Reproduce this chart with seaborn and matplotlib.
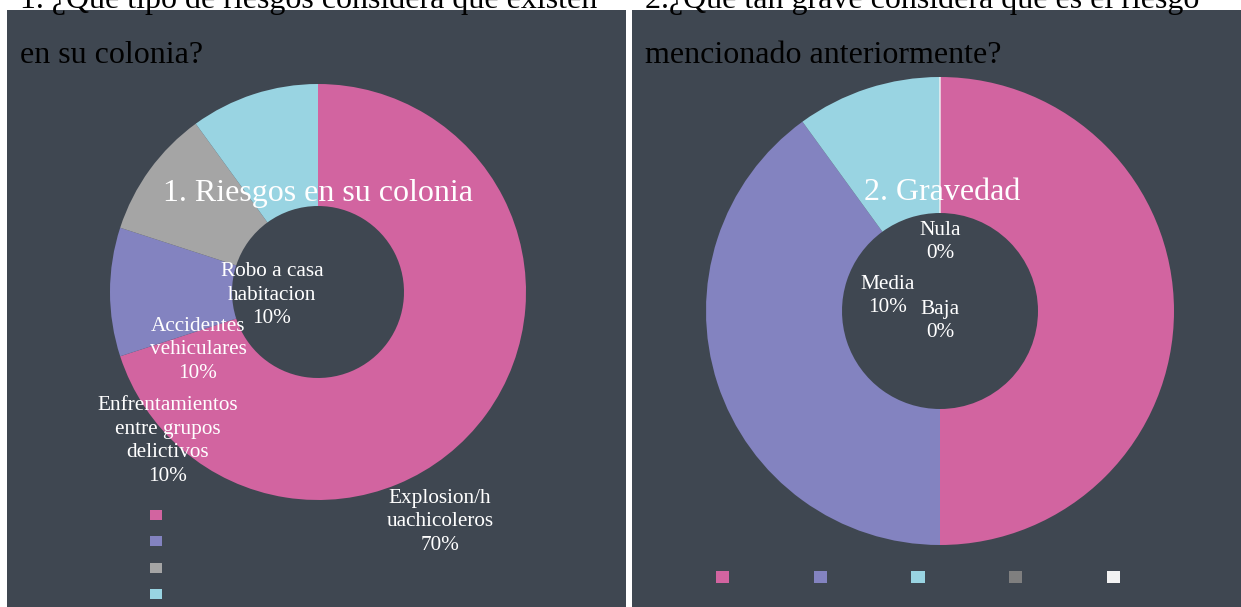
import matplotlib
matplotlib.use("Agg")
import matplotlib.pyplot as plt
import seaborn as sns
from matplotlib.patches import Patch

# --- data -------------------------------------------------------------
riesgos = ["Explosion/huachicoleros", "Enfrentamientos entre grupos delictivos",
           "Accidentes vehiculares", "Robo a casa habitacion"]
riesgos_pct = [70, 10, 10, 10]

gravedad = ["Alta", "Grave", "Media", "Baja", "Nula"]
gravedad_pct = [50, 40, 10, 0, 0]

colors_1 = ["#D264A0", "#8383C0", "#A5A5A5", "#99D4E2"]
colors_2 = ["#D264A0", "#8383C0", "#99D4E2", "#7F7F7F", "#F2F2F2"]

BG = "#3F4751"
W, H = 1241, 607

sns.set_theme(style="white")
plt.rcParams["font.family"] = ["Liberation Serif", "DejaVu Serif"]

fig = plt.figure(figsize=(W / 100, H / 100), dpi=100)
fig.patch.set_facecolor("white")


def fy(y):
    # pixel row (from top) -> data y (from bottom)
    return H - y


def panel(x0, x1):
    ax = fig.add_axes([x0 / W, 0, (x1 - x0) / W, (H - 10) / H])
    ax.set_facecolor(BG)
    return ax


def finish(ax, x0, x1):
    ax.set_xlim(x0, x1)
    ax.set_ylim(0, H - 10)
    ax.set_aspect("auto")
    ax.set_xticks([])
    ax.set_yticks([])
    for s in ax.spines.values():
        s.set_visible(False)


# --- left panel -------------------------------------------------------
ax1 = panel(7, 626)
ax1.pie(riesgos_pct, colors=colors_1, startangle=90, counterclock=False,
        center=(318, fy(292)), radius=208, frame=True,
        wedgeprops=dict(width=122, edgecolor="none"))
finish(ax1, 7, 626)

lab_kw = dict(color="white", fontsize=15.3, ha="center", va="center", linespacing=1.32)
ax1.text(318, fy(193), "1. Riesgos en su colonia", color="white", fontsize=23,
         ha="center", va="center")
ax1.text(272, fy(295), "Robo a casa\nhabitacion\n10%", **lab_kw)
ax1.text(198, fy(350), "Accidentes\nvehiculares\n10%", **lab_kw)
ax1.text(168, fy(441), "Enfrentamientos\nentre grupos\ndelictivos\n10%", **lab_kw)
ax1.text(440, fy(522), "Explosion/h\nuachicoleros\n70%", **lab_kw)

h1 = [Patch(facecolor=c, edgecolor="none") for c in colors_1]
ax1.legend(h1, [""] * len(h1), loc="center", bbox_to_anchor=(156, fy(555)),
           bbox_transform=ax1.transData, frameon=False, fontsize=8,
           handlelength=1.0, handleheight=1.0, handletextpad=0,
           labelspacing=1.4, borderpad=0)

# --- right panel ------------------------------------------------------
ax2 = panel(632, W)
wedges, _ = ax2.pie(gravedad_pct, colors=colors_2, startangle=90, counterclock=False,
                    center=(940, fy(311)), radius=234, frame=True,
                    wedgeprops=dict(width=136, edgecolor="none"))
wedges[-1].set_edgecolor("#F2F2F2")
wedges[-1].set_linewidth(1)
finish(ax2, 632, W)

ax2.text(942, fy(192), "2. Gravedad", color="white", fontsize=23,
         ha="center", va="center")
ax2.text(940, fy(242), "Nula\n0%", **lab_kw)
ax2.text(888, fy(296), "Media\n10%", **lab_kw)
ax2.text(940, fy(321), "Baja\n0%", **lab_kw)

h2 = [Patch(facecolor=c, edgecolor="none") for c in colors_2]
ax2.legend(h2, [""] * len(h2), loc="center", bbox_to_anchor=(918, fy(578)),
           bbox_transform=ax2.transData, frameon=False, fontsize=9.5, ncol=5,
           handlelength=1.0, handleheight=1.0, handletextpad=0,
           columnspacing=6.4, borderpad=0)

# --- titles (black, above panels) ---------------------------------------
tkw = dict(color="black", fontsize=23, ha="left", va="baseline")
fig.text(20 / W, 1 - 8 / H, "1. ¿Que tipo de riesgos considera que existen", **tkw)
fig.text(20 / W, 1 - 63 / H, "en su colonia?", **tkw)
fig.text(645 / W, 1 - 8 / H, "2.¿Que tan grave considera que es el riesgo", **tkw)
fig.text(645 / W, 1 - 63 / H, "mencionado anteriormente?", **tkw)

fig.savefig("out.png", dpi=100, facecolor=fig.get_facecolor())
